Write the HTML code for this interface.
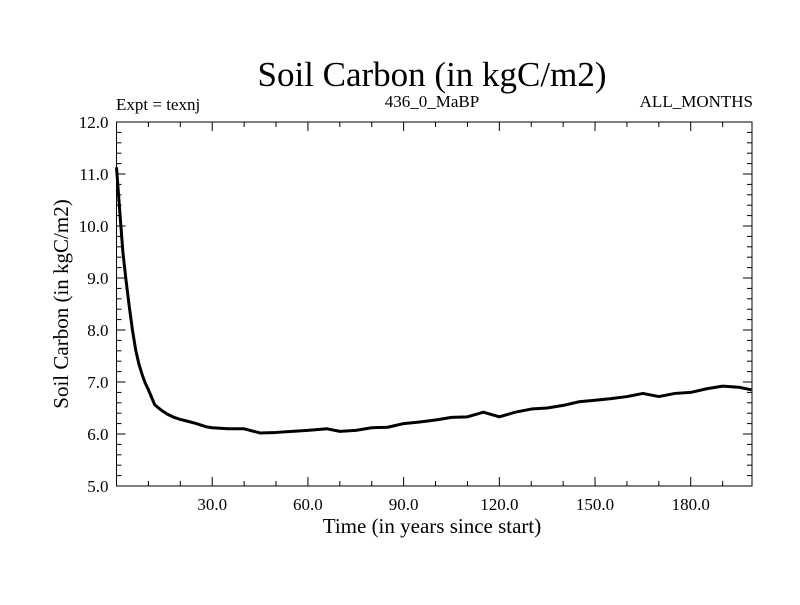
<!DOCTYPE html>
<html><head><meta charset="utf-8"><style>
body{margin:0;background:#fff}
svg text{font-family:"Liberation Serif",serif;fill:#000}
</style></head><body>
<svg id="c" width="800" height="600">
<text x="432" y="86" font-size="35" text-anchor="middle">Soil Carbon (in kgC/m2)</text>
<text x="116" y="110" font-size="17">Expt = texnj</text>
<text x="432" y="107" font-size="17" text-anchor="middle">436_0_MaBP</text>
<text x="753" y="107" font-size="17" text-anchor="end">ALL_MONTHS</text>
<text x="432" y="533" font-size="21" text-anchor="middle">Time (in years since start)</text>
<text transform="translate(68,304) rotate(-90)" font-size="21" text-anchor="middle">Soil Carbon (in kgC/m2)</text>
<g id="axes"></g>
<polyline id="line" fill="none" stroke="#000" stroke-width="3" stroke-linejoin="round"/>
<rect x="116.5" y="122" width="635.5" height="364" fill="none" stroke="#000" stroke-width="1"/>
</svg>
<script>
const years=[0,1,2,3,4,5,6,7,8,9,10,12,14,16,18,20,22,25,28,30,35,40,45,50,55,60,66,70,75,80,85,90,95,100,105,110,115,120,125,130,135,140,145,150,155,160,165,170,175,180,185,190,195,199];
const carbon=[11.13,10.3,9.5,8.95,8.45,8.0,7.62,7.35,7.15,6.98,6.85,6.56,6.46,6.38,6.32,6.28,6.25,6.2,6.14,6.12,6.1,6.1,6.02,6.03,6.05,6.07,6.1,6.05,6.07,6.12,6.13,6.2,6.23,6.27,6.32,6.33,6.42,6.33,6.42,6.48,6.5,6.55,6.62,6.65,6.68,6.72,6.78,6.72,6.78,6.8,6.87,6.92,6.9,6.85];
const xTicks=[30,60,90,120,150,180];
const yTicks=[5,6,7,8,9,10,11,12];
const X0=116.5,X1=752,Y0=486,Y1=122,xmax=199.2,ymin=5,ymax=12;
const sx=v=>X0+v/xmax*(X1-X0), sy=v=>Y0-(v-ymin)/(ymax-ymin)*(Y0-Y1);
const NS='http://www.w3.org/2000/svg', g=document.getElementById('axes');
function mk(t,a){const e=document.createElementNS(NS,t);for(const k in a)e.setAttribute(k,a[k]);g.appendChild(e);return e;}
for(let v=10;v<xmax;v+=10){const x=sx(v),big=v%30===0,L=big?9:5;
const t1=mk('line',{x1:x,x2:x,y1:Y0,y2:Y0-L,stroke:'#000'});


const t2=mk('line',{x1:x,x2:x,y1:Y1,y2:Y1+L,stroke:'#000'});

}
xTicks.forEach(v=>{const t=mk('text',{x:sx(v),y:Y0+24,'font-size':17,'text-anchor':'middle'});t.textContent=v.toFixed(1);

});
for(let i=0;i<=35;i++){const v=ymin+i*0.2,y=sy(v),big=i%5===0,L=big?9:5;
const t1=mk('line',{x1:X0,x2:X0+L,y1:y,y2:y,stroke:'#000'});


const t2=mk('line',{x1:X1,x2:X1-L,y1:y,y2:y,stroke:'#000'});

}
yTicks.forEach(v=>{const t=mk('text',{x:X0-8,y:sy(v)+6,'font-size':17,'text-anchor':'end'});t.textContent=v.toFixed(1);

});
document.getElementById('line').setAttribute('points',years.map((y,i)=>sx(y)+','+sy(carbon[i])).join(' '));
</script>
</body></html>
